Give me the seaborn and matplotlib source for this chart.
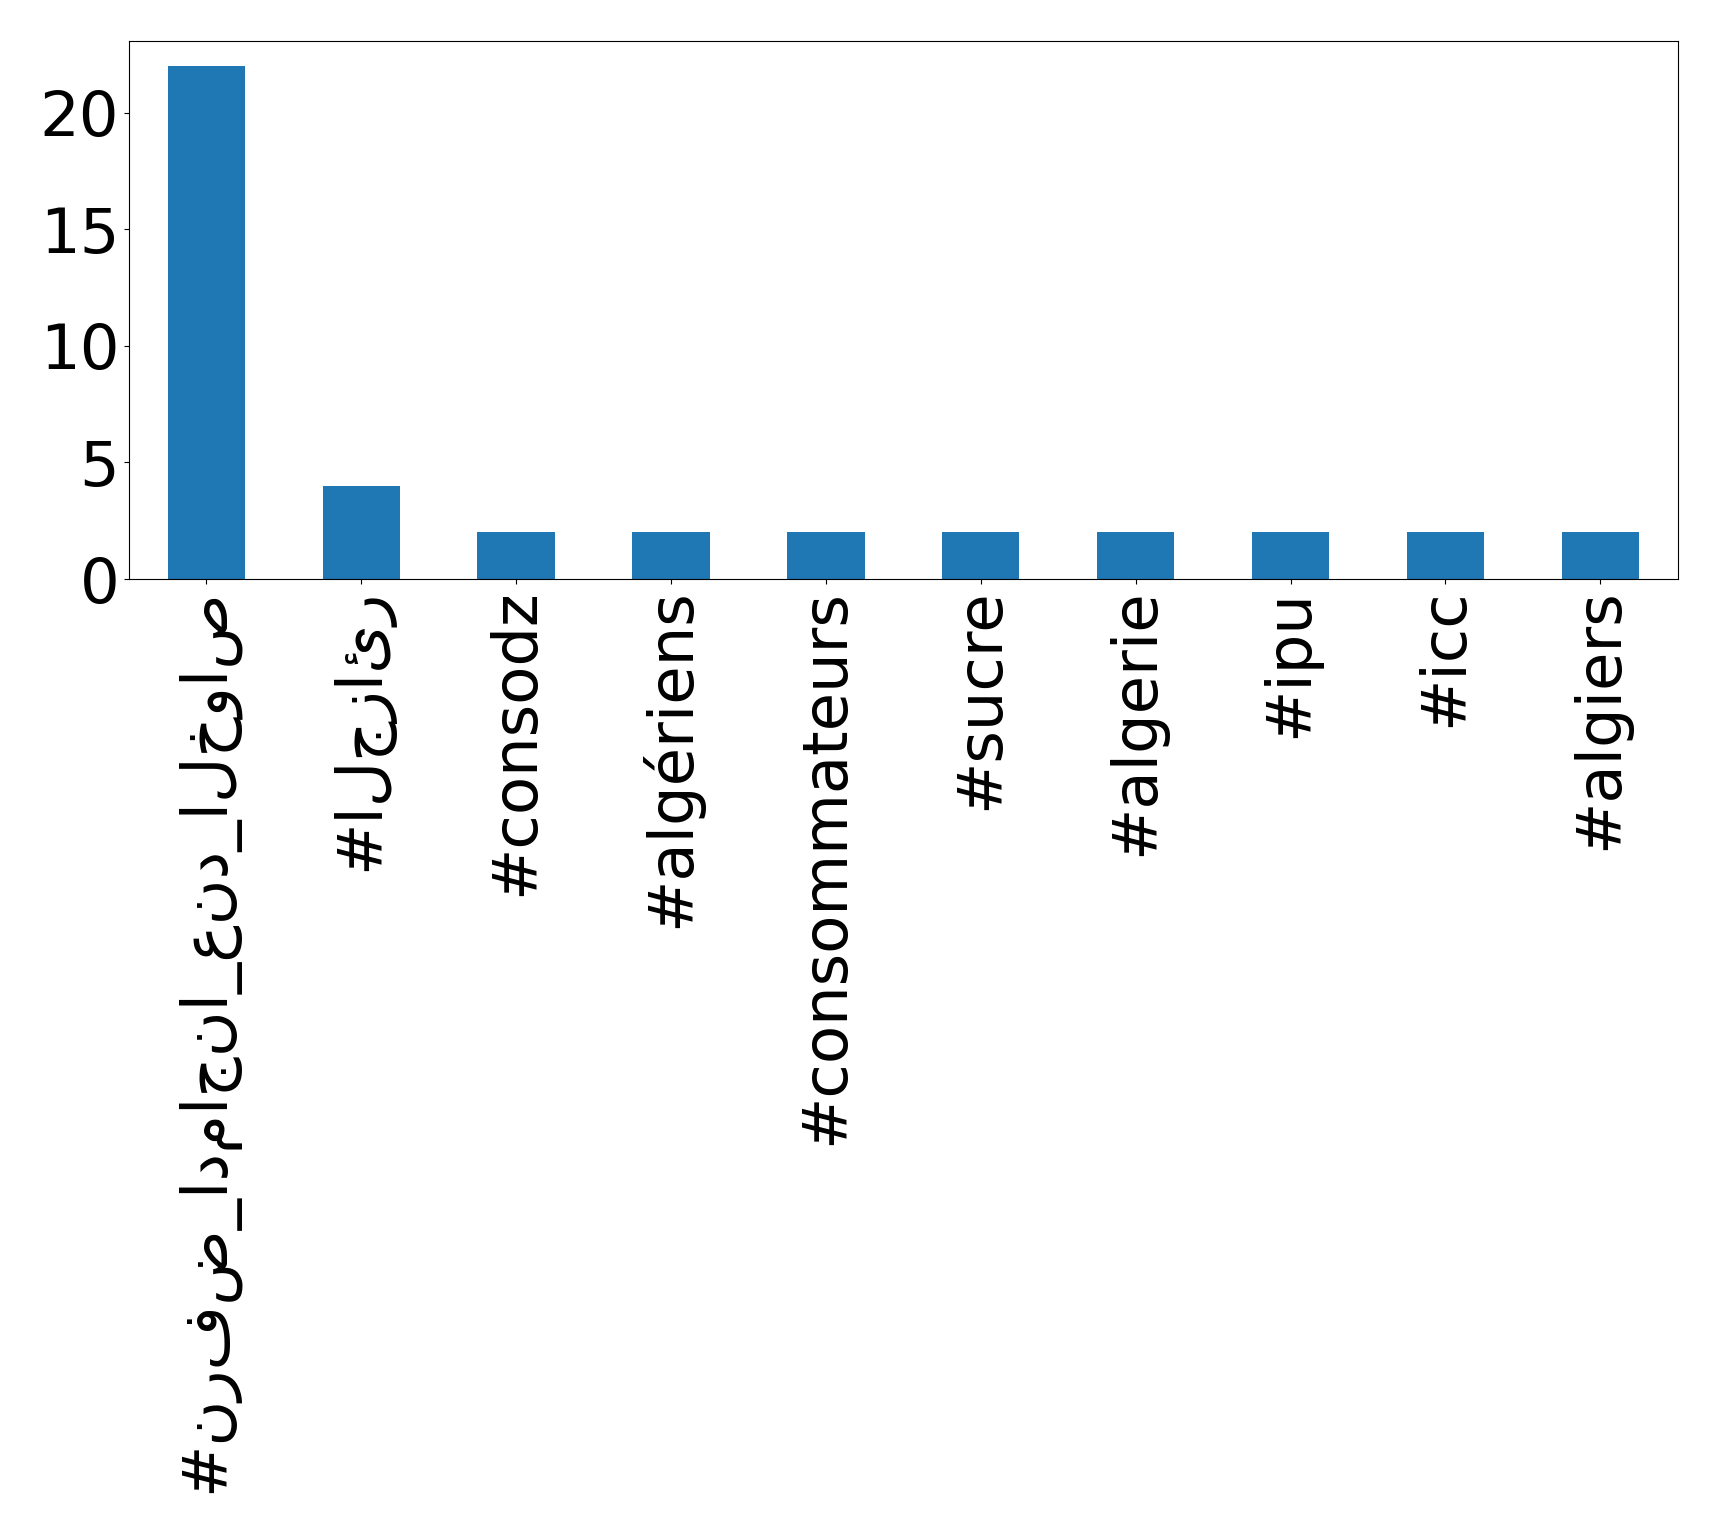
import matplotlib
matplotlib.use("Agg")
import matplotlib.pyplot as plt
import seaborn as sns
import pandas as pd

# Hashtag frequency counts
hashtags = [
    "#نرفض_ادماجنا_عند_الخواص",
    "#الجزائر",
    "#consodz",
    "#algériens",
    "#consommateurs",
    "#sucre",
    "#algerie",
    "#ipu",
    "#icc",
    "#algiers",
]
counts = [22, 4, 2, 2, 2, 2, 2, 2, 2, 2]
y_ticks = [0, 5, 10, 15, 20]

df = pd.DataFrame({"hashtag": hashtags, "count": counts})

plt.rcParams["font.family"] = ["DejaVu Sans"]

fig = plt.figure(figsize=(17.19, 15.33), dpi=100)
ax = fig.add_axes([0.075, 0.6223, 0.901, 0.3512])

sns.barplot(data=df, x="hashtag", y="count", color="#1f77b4",
            saturation=1, width=0.5, ax=ax)

ax.set_xlim(-0.5, len(hashtags) - 0.5)
ax.set_ylim(0, max(counts) * 1.05)
ax.set_yticks(y_ticks)
ax.set_xlabel("")
ax.set_ylabel("")
ax.tick_params(axis="both", labelsize=45)
ax.tick_params(axis="x", labelrotation=90)

fig.savefig("out.png", dpi=100)
